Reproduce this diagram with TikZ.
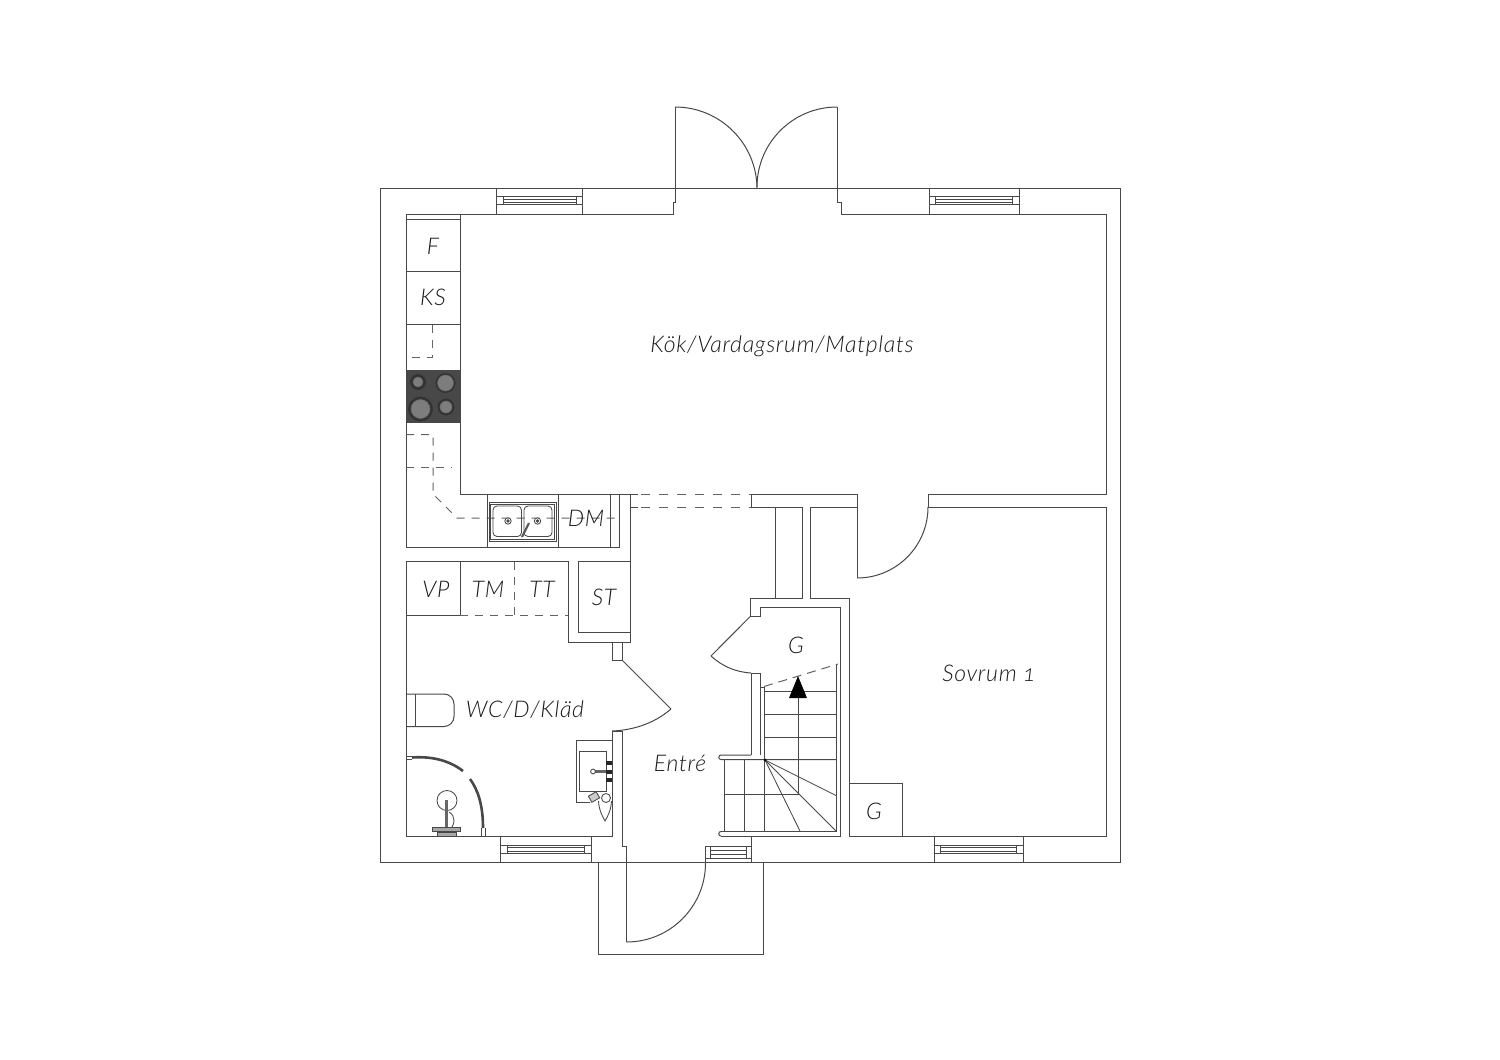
\documentclass[tikz,border=0pt]{standalone}
\usepackage{fontspec}
\setmainfont{Lato}[ItalicFont={Lato Light Italic},Numbers=OldStyle,LetterSpace=3]
\definecolor{wallgray}{RGB}{72,72,72}
\definecolor{hobgray}{RGB}{72,72,72}
\definecolor{ringgray}{RGB}{125,125,125}
\tikzset{
  wall/.style={draw=wallgray, line width=1pt, line join=miter},
  thinline/.style={draw=wallgray, line width=0.85pt},
  hidden/.style={draw=wallgray!85, line width=1pt, dash pattern=on 9pt off 9pt},
  ringout/.style={draw=black!70, line width=0.6pt, fill=black!80},
  ringin/.style={draw=black!60, line width=0.6pt, fill=ringgray},
  shower/.style={draw=wallgray, line width=2.6pt},
  roomlabel/.style={font=\fontsize{23}{26}\selectfont\itshape, text=black!90, inner sep=0pt}
}
\begin{document}
\begin{tikzpicture}[x=1pt,y=-1pt]
     \useasboundingbox (0,0) rectangle (1500,1060);
     \fill [white] (0,0) rectangle (1500,1060);

     \draw [wall] (380,188) rectangle (1120,862);

     \draw [wall] (460,494)--(460,214)--(406,214)--(406,547.5)--(620,547.5);
     \draw [wall] (460,214)--(673,214)--(673,202)--(675,202)--(675,107);
     \draw [wall] (675,107) arc (-90:0:82);
     \draw [wall] (837,107) arc (-90:-180:80);
     \draw [wall] (837,107)--(837,202)--(841,202)--(841,214)--(1106,214)--(1106,494)--(928,494)--(928,507);
     \draw [wall] (928,507) arc (0:90:71);
     \draw [wall] (857,578)--(857,494)--(751,494)--(751,507)--(802,507);
     \draw [wall] (460,494)--(638,494);
     \draw [wall] (630,507)--(638,507);
     \draw [hidden] (641,494)--(751,494);
     \draw [hidden] (641,507)--(751,507);

     \draw [wall] (775.5,507)--(775.5,598.6);
     \draw [wall] (802,507)--(802,598.6);
     \draw [wall] (810.5,598.6)--(810.5,507)--(857,507);
     \draw [wall] (802,598.6)--(750.7,598.6)--(750.7,616)--(760,616)--(760,607)--(840,607)--(840,836)--(721,836);
     \draw [wall] (810.5,598.6)--(849,598.6)--(849,836);
     \draw [wall] (750.7,616)--(711,656);
     \draw [wall] (711,656) .. controls (722,666) and (735,672) .. (751,673);
     \draw [wall] (751,755)--(751,673)--(760,673)--(760,687)--(764,687);
     \draw [wall] (760,687)--(760,755);

     \draw [wall] (928,507)--(1106,507)--(1106,836)--(849,836);
     \draw [wall] (849,783)--(902,783)--(902,836);

     \draw [thinline] (764,687)--(764,832);
     \draw [thinline] (836,665)--(836,832);
     \draw [hidden,dash pattern=on 9pt off 6pt] (764,686.5)--(838,664);
     \draw [thinline] (764,691)--(836,691);
     \draw [thinline] (764,714)--(836,714);
     \draw [thinline] (764,737)--(836,737);
     \draw [wall] (751,755)--(721,755) arc (-90:-270:2.25)--(751,759.5)--(836,759.5);
     \draw [wall] (721,831.5)--(836,831.5);
     \draw [wall] (721,831.5) arc (-90:-270:2.25);
     \draw [thinline] (724,760)--(724,831);
     \draw [thinline] (744,760)--(744,831);
     \draw [thinline] (724,794.5)--(798.5,794.5);
     \draw [thinline] (798.5,698)--(798.5,794.5);
     \draw [thinline] (765,760)--(836,795.5);
     \draw [thinline] (765,760)--(836,831);
     \draw [thinline] (765,760)--(800,831);
     \fill [black] (765,760) circle (1.5);
     \fill [black] (798,676)--(789,698)--(807,698)--cycle;

     \draw [wall] (406,836)--(406,561.5)--(568,561.5)--(568,642)--(630,642)--(630,494);
     \draw [wall] (578,632)--(578,561.5)--(630,561.5);
     \draw [wall] (578,632)--(630,632);
     \draw [wall] (612,642)--(612,660)--(622,660)--(622,642);
     \draw [wall] (622,660)--(671,709);
     \draw [wall] (671,709) .. controls (656,722) and (636,730) .. (612,731);
     \draw [wall] (612,731)--(622,731);
     \draw [wall] (612,731)--(612,836)--(406,836);
     \draw [wall] (622,731)--(622,846)--(626.5,846)--(626.5,942);
     \draw [wall] (626.5,942) arc (90:0:79);
     \draw [wall] (598,862)--(598,954)--(763,954)--(763,862);
     \draw [wall] (591,836)--(591,862);

     \draw [wall] (460,271.5) --(406,271.5);
     \draw [wall] (406,219.7)--(460,219.7);
     \draw [wall] (406,324.5)--(460,324.5);
     \draw [hidden,dash pattern=on 8pt off 7pt] (432.7,325)--(432.7,357)--(406,357);
     \fill [hobgray] (406,369.5) rectangle (460,423);
     \draw [ringout] (418,382) circle (8.5);
     \draw [ringout] (445.5,383) circle (10.5);
     \draw [ringout] (420.5,409) circle (13);
     \draw [ringout] (446,407) circle (9);
     \draw [ringin] (418,382) circle (5);
     \draw [ringin] (445.5,383) circle (8);
     \draw [ringin] (420.5,409) circle (9.5);
     \draw [ringin] (446,407) circle (6);

     \draw [hidden,dash pattern=on 8pt off 7pt] (406,434.5)--(433,434.5)--(433,494)--(457,518)--(615,518);
     \draw [hidden,dash pattern=on 8pt off 7pt] (406,467)--(452,467);
     \draw [wall] (487.5,494)--(487.5,547.5);
     \draw [wall] (558,494)--(558,547.5);
     \draw [wall] (610.7,494)--(610.7,547.5);
     \draw [wall] (619.7,494)--(619.7,547.5);
     \draw [thinline] (489,502.5) rectangle (556,541);
     \draw [thinline] (490.5,504) rectangle (554.5,539.5);
     \draw [thinline,rounded corners=4pt] (493,506) rectangle (521.5,536.5);
     \draw [thinline,rounded corners=4pt] (524,506) rectangle (552,536.5);
     \draw [thinline,fill=white] (508,521) circle (3.2);
     \draw [thinline,fill=black!70] (508,521) circle (1.2);
     \draw [thinline,fill=white] (537.5,521) circle (3.2);
     \draw [thinline,fill=black!70] (537.5,521) circle (1.2);
     \draw [draw=black!65,line width=2.2pt] (522,537)--(529,523);

     \draw [hidden,dash pattern=on 8pt off 7pt] (460,615)--(568,615);
     \draw [hidden,dash pattern=on 8pt off 7pt] (514.5,562)--(514.5,615);
     \draw [wall] (406,615)--(460,615);
     \draw [wall] (460,561.5)--(460,615);

     \draw [wall,rounded corners=10pt] (406,694)--(454,694)--(454,726.5)--(406,726.5);
     \draw [wall] (415.8,694)--(415.8,726.5);

     \draw [shower] (412,757.5) .. controls (433,756) and (450,761) .. (463,771);
     \draw [shower] (470,779) .. controls (478,790) and (483,805) .. (483,828);
     \draw [thinline] (406,756)--(412,756) (406,759)--(412,759);
     \draw [thinline] (481.5,828)--(481.5,836) (485,828)--(485,836);
     \draw [thinline] (447,800.5) circle (10);
     \draw [draw=black!60,line width=2.4pt] (446.5,800)--(446.5,828);
     \draw [thinline] (449,812) .. controls (456,816) and (455,824) .. (450,830);
     \draw [thinline,fill=black!35] (432.5,827) rectangle (460,831);
     \draw [thinline,fill=black!35] (437,832.5) rectangle (456,836);

     \draw [thinline] (612,740)--(576,740)--(576,802)--(590,802);
     \draw [thinline] (579.5,751.5) rectangle (606,791);
     \draw [draw=black!60,line width=2.2pt] (595,771.5)--(608,771.5);
     \draw [thinline,fill=white] (593,771.5) circle (2.4);
     \fill [black!85] (606,761) rectangle (611.5,765);
     \fill [black!85] (606,769.5) rectangle (611.5,773.5);
     \fill [black!85] (606,778) rectangle (611.5,782);
     \draw [thinline,fill=black!20,rotate around={30:(594,797)}] (589.5,793.5) rectangle (598.5,800.5);
     \draw [thinline] (606,798) circle (4.5);
     \draw [thinline] (598.5,801) .. controls (599,811) and (603,817) .. (605,821) .. controls (608,816) and (611,810) .. (611.5,801);

     \draw [wall] (496.5,188)--(496.5,214) (582.7,188)--(582.7,214);
     \draw [thinline] (496.5,196.7) rectangle (582.7,204.7);
     \draw [thinline] (503,196.7)--(503,204.7) (576.5,196.7)--(576.5,204.7);
     \draw [thinline] (503,199)--(576.5,199) (503,202.3)--(576.5,202.3);

     \draw [wall] (929,188)--(929,214) (1019,188)--(1019,214);
     \draw [thinline] (929,196.7) rectangle (1019,204.7);
     \draw [thinline] (935.5,196.7)--(935.5,204.7) (1012.5,196.7)--(1012.5,204.7);
     \draw [thinline] (935.5,199)--(1012.5,199) (935.5,202.3)--(1012.5,202.3);

     \draw [wall] (500.7,836)--(500.7,862) (591,836)--(591,862);
     \draw [thinline] (500.7,845) rectangle (591,853.7);
     \draw [thinline] (507,845)--(507,853.7) (584.5,845)--(584.5,853.7);
     \draw [thinline] (507,847.5)--(584.5,847.5) (507,851)--(584.5,851);

     \draw [wall] (934,836)--(934,862) (1023,836)--(1023,862);
     \draw [thinline] (934,845) rectangle (1023,853.7);
     \draw [thinline] (940.5,845)--(940.5,853.7) (1016.5,845)--(1016.5,853.7);
     \draw [thinline] (940.5,847.5)--(1016.5,847.5) (940.5,851)--(1016.5,851);

     \draw [wall] (705.5,862)--(705.5,846)--(751.5,846) (751.5,836)--(751.5,862);
     \draw [thinline] (705.5,858)--(751.5,858);
     \draw [thinline] (710.5,846)--(710.5,858) (746.5,846)--(746.5,858);
     \draw [thinline] (710.5,850)--(746.5,850) (710.5,854)--(746.5,854);

     \node [roomlabel] (lblF) at (433,246){F};
     \node [roomlabel] (lblKS) at (433,297){KS};
     \node [roomlabel] (lblKok) at (782,346){Kök/Vardagsrum/Matplats};
     \node [roomlabel] (lblDM) at (586,518){DM};
     \node [roomlabel] (lblVP) at (436,589){VP};
     \node [roomlabel] (lblTM) at (488,589){TM};
     \node [roomlabel] (lblTT) at (542,589){TT};
     \node [roomlabel] (lblST) at (604,597){ST};
     \node [roomlabel] (lblG) at (796,645){G};
     \node [roomlabel] (lblWC) at (525,710){WC/D/Kläd};
     \node [roomlabel] (lblSovrum) at (989,673){Sovrum 1};
     \node [roomlabel] (lblEntre) at (680,763){Entré};
     \node [roomlabel] (lblGtwo) at (874,811){G};
\end{tikzpicture}
\end{document}
